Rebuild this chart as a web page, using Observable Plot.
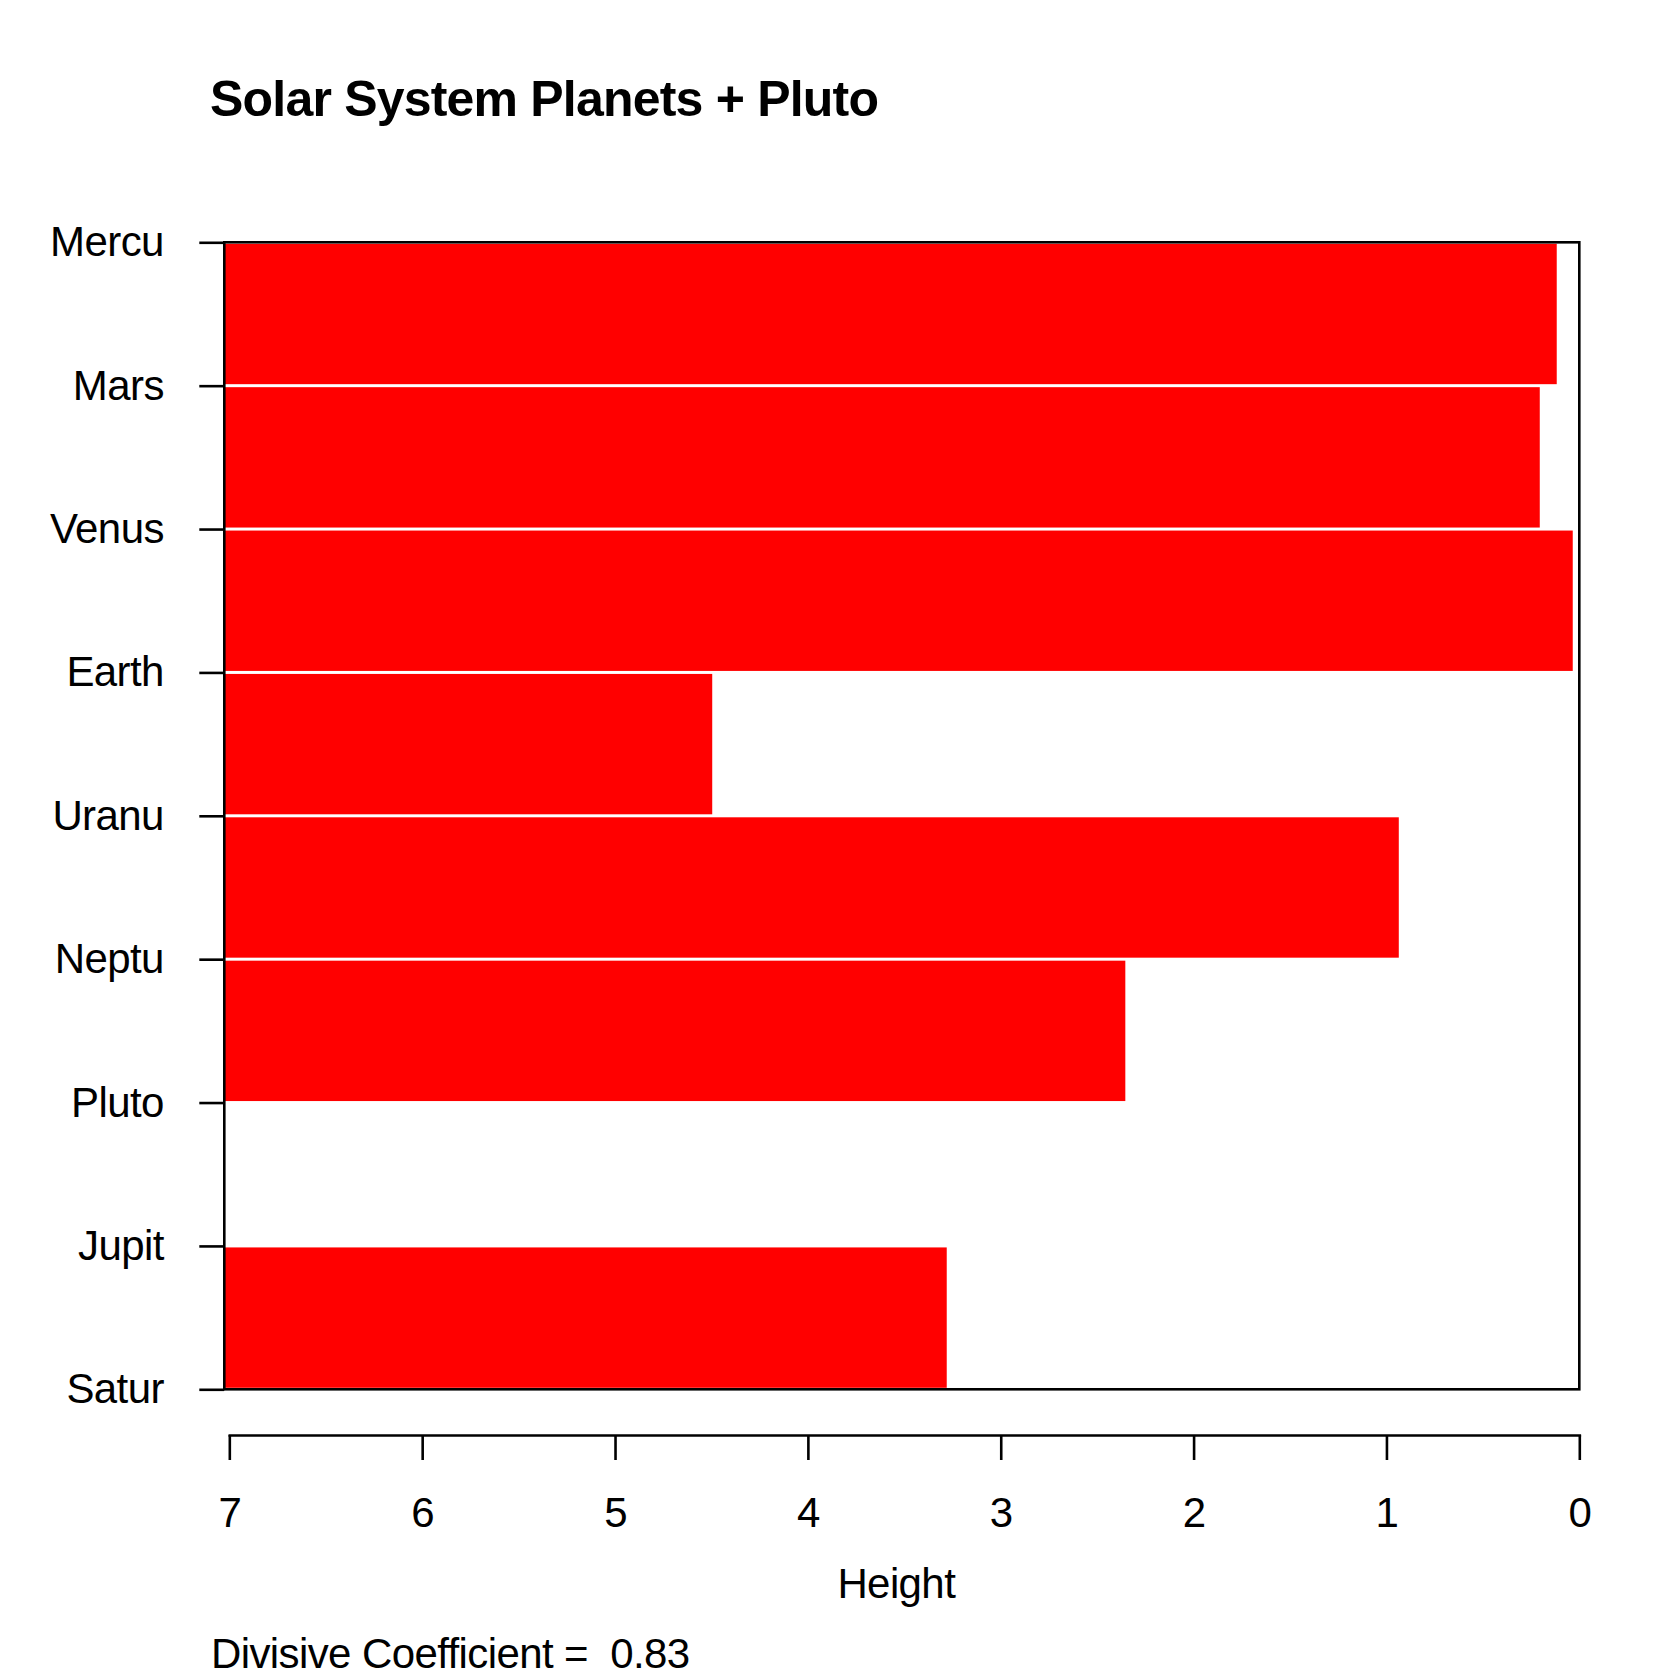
<!DOCTYPE html>
<html>
<head>
<meta charset="utf-8">
<script src="https://cdn.jsdelivr.net/npm/d3@7"></script>
<script src="https://cdn.jsdelivr.net/npm/@observablehq/plot@0.6"></script>
<style>
  html, body { margin: 0; padding: 0; background: #fff; }
  body { width: 1680px; height: 1680px; overflow: hidden; font-family: "Liberation Sans", Arial, Helvetica, sans-serif; color: #000; }
  #title { position: relative; height: 160px; }
  #title span { position: absolute; left: 210px; top: 73.7px; font-weight: bold; font-size: 50px; line-height: 50px; letter-spacing: -0.8px; white-space: pre; }
  #chart { height: 1460px; }
  #caption { position: relative; height: 60px; }
  #caption span { position: absolute; left: 211px; top: 13.4px; font-size: 42px; line-height: 42px; letter-spacing: -0.6px; white-space: pre; }
</style>
</head>
<body>
<div id="title"><span></span></div>
<div id="chart"></div>
<div id="caption"><span></span></div>
<script>
// ---- data ----
const titleText = "Solar System Planets + Pluto";
const labels = ["Mercu", "Mars", "Venus", "Earth", "Uranu", "Neptu", "Pluto", "Jupit", "Satur"];
// banner heights between consecutive labels (split heights)
const heights = [0.117, 0.205, 0.034, 4.496, 0.936, 2.354, 7.026, 3.280];
const xTicks = [0, 1, 2, 3, 4, 5, 6, 7];
const xLabel = "Height";
const divisiveCoef = 0.83;

// ---- build ----
document.querySelector("#title span").textContent = titleText;
document.querySelector("#caption span").textContent = "Divisive Coefficient =  " + divisiveCoef.toFixed(2);

const xMax = d3.max(heights);
const bars = heights.map((h, i) => ({i, h}));
const box = [{x1: xMax, x2: 0, y1: 0, y2: labels.length - 1}];

const W = 1680, H = 1460;
const xRange = [224.3, 1579.3];
const yRange = [82.3, 1229.3];
const lw = 2.6;
const fs = 42;
const insetLeftAxis = (xMax - d3.max(xTicks)) / xMax * (xRange[1] - xRange[0]);

const chart = Plot.plot({
  width: W,
  height: H,
  marginLeft: xRange[0],
  marginRight: W - xRange[1],
  marginTop: yRange[0],
  marginBottom: 185,
  style: {fontFamily: "'Liberation Sans', Arial, Helvetica, sans-serif", background: "#fff", color: "#000", overflow: "visible", letterSpacing: "-0.6px"},
  x: {type: "linear", domain: [xMax, 0], range: xRange, axis: null},
  y: {type: "linear", domain: [0, labels.length - 1], range: yRange, axis: null},
  marks: [
    Plot.rect(bars, {x1: () => xMax, x2: d => d.h, y1: d => d.i, y2: d => d.i + 1, fill: "#FF0000", insetTop: 1.5, insetBottom: 1.5}),
    Plot.rect(box, {x1: "x1", x2: "x2", y1: "y1", y2: "y2", fill: "none", stroke: "#000", strokeWidth: lw}),
    Plot.axisY(d3.range(labels.length), {anchor: "left", tickSize: 25, tickPadding: 36, fontSize: fs, strokeWidth: lw, tickFormat: i => labels[i]}),
    Plot.axisX(xTicks, {anchor: "bottom", tickSize: 25, tickPadding: 37, fontSize: fs, strokeWidth: lw, tickFormat: d => String(d)}),
    Plot.frame({anchor: "bottom", insetLeft: insetLeftAxis, stroke: "#000", strokeWidth: lw}),
    Plot.text([xLabel], {text: d => d, frameAnchor: "bottom", dx: -6, dy: 162, lineAnchor: "bottom", fontSize: fs, fill: "#000"})
  ]
});
document.getElementById("chart").appendChild(chart);
</script>
</body>
</html>
